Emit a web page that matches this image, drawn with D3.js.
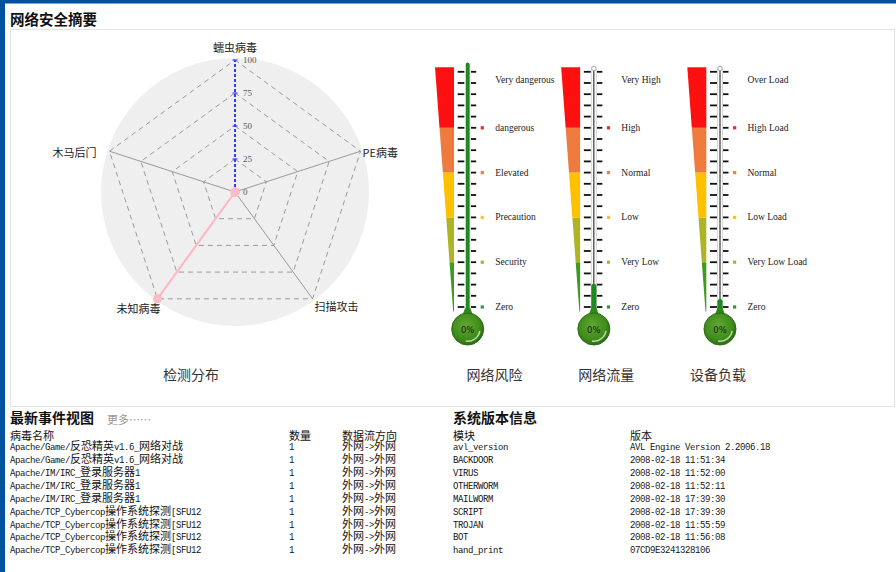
<!DOCTYPE html>
<html>
<head>
<meta charset="utf-8">
<script src="https://cdn.jsdelivr.net/npm/d3@7"></script>
<style>
  /* narrow monospace face so Latin glyphs take half the width of a CJK glyph */
  @font-face {
    font-family: "NarrowMono";
    src: local("Liberation Mono"), local("LiberationMono-Regular"), local("Liberation Mono Regular");
    size-adjust: 83.3%;
  }
  html, body { margin: 0; padding: 0; background: #fff; }
  svg { display: block; }
</style>
</head>
<body>
<svg id="chart" width="896" height="572"></svg>
<script>
// ---- data ----
const radarAxes = ["蠕虫病毒", "PE病毒", "扫描攻击", "未知病毒", "木马后门"];
const radarValues = [0, 0, 0, 100, 0];
const radarTicks = [0, 25, 50, 75, 100];

const gaugeTitles = ["网络风险", "网络流量", "设备负载"];
const levelValues = [0, 20, 40, 60, 80, 100];
const gaugeLevelNames = [
  ["Zero", "Security", "Precaution", "Elevated", "dangerous", "Very dangerous"],
  ["Zero", "Very Low", "Low", "Normal", "High", "Very High"],
  ["Zero", "Very Low Load", "Low Load", "Normal", "High Load", "Over Load"]
];
const gaugeValues = [100, 12, 6];
const bulbLabels = ["0%", "0%", "0%"];

const eventHeaders = ["病毒名称", "数量", "数据流方向"];
const eventNames = [
  "Apache/Game/反恐精英v1.6_网络对战",
  "Apache/Game/反恐精英v1.6_网络对战",
  "Apache/IM/IRC_登录服务器1",
  "Apache/IM/IRC_登录服务器1",
  "Apache/IM/IRC_登录服务器1",
  "Apache/TCP_Cybercop操作系统探测[SFU12",
  "Apache/TCP_Cybercop操作系统探测[SFU12",
  "Apache/TCP_Cybercop操作系统探测[SFU12",
  "Apache/TCP_Cybercop操作系统探测[SFU12"
];
const eventCounts = [1, 1, 1, 1, 1, 1, 1, 1, 1];
const eventDirections = ["外网->外网", "外网->外网", "外网->外网", "外网->外网", "外网->外网",
                         "外网->外网", "外网->外网", "外网->外网", "外网->外网"];

const versionHeaders = ["模块", "版本"];
const versionModules = ["avl_version", "BACKDOOR", "VIRUS", "OTHERWORM", "MAILWORM", "SCRIPT", "TROJAN", "BOT", "hand_print"];
const versionValues = ["AVL Engine Version 2.2006.18", "2008-02-18 11:51:34", "2008-02-18 11:52:00",
  "2008-02-18 11:52:11", "2008-02-18 17:39:30", "2008-02-18 17:39:30", "2008-02-18 11:55:59",
  "2008-02-18 11:56:08", "07CD9E3241328106"];

// ---- styles ----
const BLUE = "#00519e";
const CJK = '"Noto Sans CJK SC", "Noto Sans", sans-serif';
const MONO = '"NarrowMono", "Liberation Mono", "Noto Sans CJK SC", monospace';
const SERIF = '"Liberation Serif", "DejaVu Serif", serif';
const bandColors = ["#3f9b1f", "#adb526", "#ffc000", "#ee7b3d", "#ff1010"];
const dotColors = ["#2f9a2f", "#b0b030", "#ffc21a", "#f0803c", "#ff2020"];

const svg = d3.select("#chart");

// ---- page frame ----
svg.append("rect").attr("width", 896).attr("height", 572).attr("fill", "#fff");
svg.append("rect").attr("x", 0).attr("y", 0).attr("width", 896).attr("height", 3.5).attr("fill", BLUE);
svg.append("rect").attr("x", 0).attr("y", 0).attr("width", 5).attr("height", 572).attr("fill", BLUE);
svg.append("rect").attr("x", 10.5).attr("y", 29.5).attr("width", 884).attr("height", 377)
  .attr("fill", "none").attr("stroke", "#e4e4e4");

svg.append("text").attr("x", 10).attr("y", 25)
  .style("font-family", CJK).style("font-size", "14.5px").style("font-weight", 700)
  .attr("fill", "#111").text("网络安全摘要");

// ---- radar ----
const cx = 235, cy = 192, R = 132;
const rScale = d3.scaleLinear().domain([0, 100]).range([0, R]);
const angle = d3.scaleLinear().domain([0, radarAxes.length]).range([-Math.PI / 2, 1.5 * Math.PI]);
const pt = (i, v) => [cx + rScale(v) * Math.cos(angle(i)), cy + rScale(v) * Math.sin(angle(i))];

const radar = svg.append("g");
radar.append("circle").attr("cx", cx).attr("cy", cy).attr("r", 134).attr("fill", "#efefef");

radarTicks.filter(t => t > 0).forEach(t => {
  radar.append("path")
    .attr("d", d3.line()(radarAxes.map((_, i) => pt(i, t))) + "Z")
    .attr("fill", "none").attr("stroke", "#9a9a9a").attr("stroke-width", 1)
    .attr("stroke-dasharray", "5,4");
});

radarAxes.forEach((_, i) => {
  if (i === 0) return;
  const p = pt(i, 100);
  radar.append("line").attr("x1", cx).attr("y1", cy).attr("x2", p[0]).attr("y2", p[1])
    .attr("stroke", "#9a9a9a").attr("stroke-width", 1);
});

// value axis on the first spoke
const axisEnd = pt(0, 100);
radar.append("line").attr("x1", cx).attr("y1", cy).attr("x2", axisEnd[0]).attr("y2", axisEnd[1])
  .attr("stroke", "#3a3aff").attr("stroke-width", 2).attr("stroke-dasharray", "3,2");
radarTicks.forEach(t => {
  const p = pt(0, t);
  radar.append("line").attr("x1", p[0] - 2.5).attr("x2", p[0] + 2.5).attr("y1", p[1]).attr("y2", p[1])
    .attr("stroke", "#3a3aff").attr("stroke-width", 1.2);
  radar.append("text").attr("x", p[0] + 8).attr("y", p[1])
    .attr("dominant-baseline", "central")
    .style("font-family", SERIF).style("font-size", "9px").attr("fill", "#555").text(t);
});

// series
const seriesPts = radarValues.map((v, i) => pt(i, v));
radar.append("path").attr("d", d3.line()(seriesPts) + "Z")
  .attr("fill", "none").attr("stroke", "#ffb6c1").attr("stroke-width", 2);
radar.selectAll(".dot").data(seriesPts).join("circle")
  .attr("cx", d => d[0]).attr("cy", d => d[1]).attr("r", 4.5).attr("fill", "#ffbcc8");

// axis names
const labelNudge = [
  { dx: 0, dy: -13, anchor: "middle" },
  { dx: 2, dy: 1, anchor: "start" },
  { dx: 2, dy: 7, anchor: "start" },
  { dx: 3, dy: 9, anchor: "end" },
  { dx: -13, dy: 1, anchor: "end" }
];
radarAxes.forEach((name, i) => {
  const p = pt(i, 100);
  radar.append("text").attr("x", p[0] + labelNudge[i].dx).attr("y", p[1] + labelNudge[i].dy)
    .attr("text-anchor", labelNudge[i].anchor).attr("dominant-baseline", "central")
    .style("font-family", CJK).style("font-size", "11px").attr("fill", "#222").text(name);
});

svg.append("text").attr("x", 191).attr("y", 374).attr("text-anchor", "middle")
  .attr("dominant-baseline", "central")
  .style("font-family", CJK).style("font-size", "14px").attr("fill", "#333").text("检测分布");

// ---- thermometers ----
const tubeX = d3.scaleLinear().domain([0, 2]).range([467.7, 720]);
const captionX = d3.scaleLinear().domain([0, 2]).range([494.5, 718]);
const levelY = d3.scaleLinear().domain([0, 100]).range([307, 83]);
const fillY = d3.scaleLinear().domain([0, 100]).range([314, 62]);
const tickVals = d3.range(0, 106, 5);
const bulbY = 329, bulbR = 16;

const defs = svg.append("defs");
const grad = defs.append("radialGradient").attr("id", "bulbGrad").attr("cx", "45%").attr("cy", "40%").attr("r", "60%");
grad.append("stop").attr("offset", "0%").attr("stop-color", "#62a832");
grad.append("stop").attr("offset", "70%").attr("stop-color", "#3f8d1c");
grad.append("stop").attr("offset", "100%").attr("stop-color", "#2c6e10");

gaugeTitles.forEach((title, g) => {
  const tx = tubeX(g);
  const gg = svg.append("g");

  // colour wedge
  const wedgeTop = levelY(107), wedgeBottom = levelY(-2);
  const leftX = d3.scaleLinear().domain([wedgeTop, wedgeBottom]).range([tx - 32.7, tx - 14.5]);
  const rightX = tx - 13.7;
  bandColors.forEach((c, b) => {
    const v0 = b === 0 ? -2 : levelValues[b];
    const v1 = b === bandColors.length - 1 ? 107 : levelValues[b + 1];
    const y0 = levelY(v1), y1 = levelY(v0);
    gg.append("path")
      .attr("d", d3.line()([[leftX(y0), y0], [rightX, y0], [rightX, y1], [leftX(y1), y1]]) + "Z")
      .attr("fill", c);
  });

  // scale ticks
  tickVals.forEach(v => {
    const y = levelY(v);
    gg.append("line").attr("x1", tx - 10).attr("x2", tx - 3).attr("y1", y).attr("y2", y)
      .attr("stroke", "#111").attr("stroke-width", 1.8);
    gg.append("line").attr("x1", tx + 3).attr("x2", tx + 8.5).attr("y1", y).attr("y2", y)
      .attr("stroke", "#111").attr("stroke-width", 1.8);
  });

  // empty glass tube
  const value = gaugeValues[g];
  if (value < 100) {
    gg.append("rect").attr("x", tx - 2.5).attr("y", 66).attr("width", 5).attr("height", 250)
      .attr("rx", 2.5).attr("fill", "none").attr("stroke", "#cfcfcf").attr("stroke-width", 0.8);
    gg.append("line").attr("x1", tx).attr("x2", tx).attr("y1", 69).attr("y2", 316)
      .attr("stroke", "#111").attr("stroke-width", 1);
    gg.append("circle").attr("cx", tx).attr("cy", 68.5).attr("r", 2.2)
      .attr("fill", "#fff").attr("stroke", "#999").attr("stroke-width", 0.8);
  }
  // mercury
  gg.append("rect").attr("x", tx - 2.6).attr("y", fillY(value)).attr("width", 5.2)
    .attr("height", 318 - fillY(value)).attr("rx", 2.6)
    .attr("fill", "#1f8a1f").attr("stroke", value >= 100 ? "#fff" : "none").attr("stroke-width", 1.2);
  gg.append("path").attr("d", d3.line()([[tx - 2.6, 308], [tx - 5.5, 316], [tx + 5.5, 316], [tx + 2.6, 308]]) + "Z")
    .attr("fill", "#2a8a1a");

  // bulb
  gg.append("circle").attr("cx", tx).attr("cy", bulbY).attr("r", bulbR)
    .attr("fill", "url(#bulbGrad)").attr("stroke", "#2b6a12").attr("stroke-width", 1);
  const hl = d3.arc().innerRadius(11.5).outerRadius(13).startAngle(Math.PI * 0.55).endAngle(Math.PI * 1.05);
  gg.append("path").attr("transform", `translate(${tx},${bulbY})`).attr("d", hl())
    .attr("fill", "#d8ecc8").attr("opacity", 0.8);
  gg.append("text").attr("x", tx).attr("y", bulbY + 1).attr("text-anchor", "middle")
    .attr("dominant-baseline", "central")
    .style("font-family", '"DejaVu Sans", sans-serif').style("font-size", "8.5px")
    .attr("fill", "#1a1a1a").text(bulbLabels[g]);

  // level markers and names
  levelValues.forEach((v, k) => {
    const y = levelY(v);
    if (k < dotColors.length) {
      gg.append("rect").attr("x", tx + 13).attr("y", y - 1.6).attr("width", 3.2).attr("height", 3.2)
        .attr("fill", dotColors[k]);
    }
    gg.append("text").attr("x", tx + 27.5).attr("y", y - (k === 5 ? 3 : 0))
      .attr("dominant-baseline", "central")
      .style("font-family", SERIF).style("font-size", "9.5px").attr("fill", "#222")
      .text(gaugeLevelNames[g][k]);
  });

  svg.append("text").attr("x", captionX(g)).attr("y", 374).attr("text-anchor", "middle")
    .attr("dominant-baseline", "central")
    .style("font-family", CJK).style("font-size", "14px").attr("fill", "#333").text(title);
});

// ---- tables ----
const rowY = d3.scaleLinear().domain([0, eventNames.length - 1]).range([447.8, 550.8]);
const headerY = 435;

function sectionTitle(x, text) {
  svg.append("text").attr("x", x).attr("y", 423)
    .style("font-family", CJK).style("font-size", "14px").style("font-weight", 700)
    .attr("fill", "#111").text(text);
}
function cell(x, y, text, family) {
  svg.append("text").attr("x", x).attr("y", y).attr("dominant-baseline", "central")
    .style("font-family", family).style("font-size", "11px").attr("fill", "#111").text(text);
}

sectionTitle(10, "最新事件视图");
svg.append("text").attr("x", 107).attr("y", 418.5).attr("dominant-baseline", "central")
  .style("font-family", CJK).style("font-size", "11px").attr("fill", "#999").text("更多……");

const eventCols = [10, 289, 342];
eventHeaders.forEach((h, c) => cell(eventCols[c], headerY, h, CJK));
eventNames.forEach((name, i) => {
  cell(eventCols[0], rowY(i), name, MONO);
  cell(eventCols[1], rowY(i), eventCounts[i], MONO);
  cell(eventCols[2], rowY(i), eventDirections[i], MONO);
});

sectionTitle(453, "系统版本信息");
const versionCols = [453, 630];
versionHeaders.forEach((h, c) => cell(versionCols[c], headerY, h, CJK));
versionModules.forEach((m, i) => {
  cell(versionCols[0], rowY(i), m, MONO);
  cell(versionCols[1], rowY(i), versionValues[i], MONO);
});
</script>
</body>
</html>
